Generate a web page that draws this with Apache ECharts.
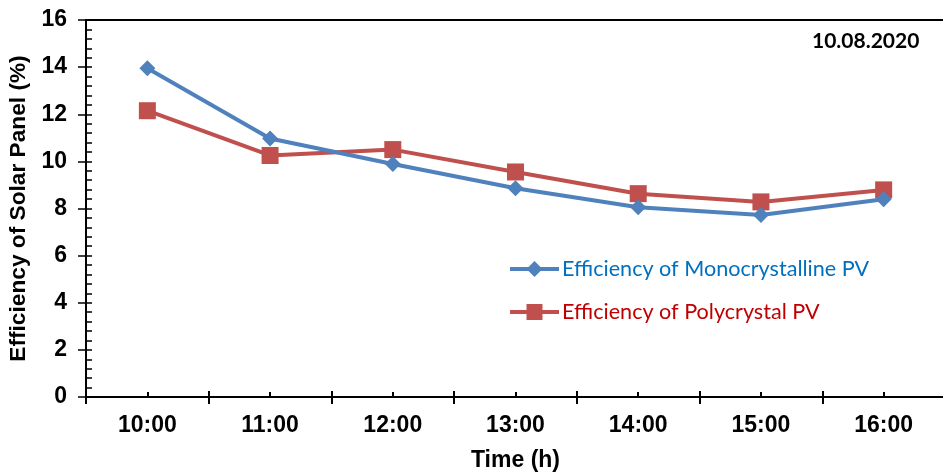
<!DOCTYPE html>
<html>
<head>
<meta charset="utf-8">
<script src="https://cdn.jsdelivr.net/npm/echarts@6/dist/echarts.min.js"></script>
<style>
  html, body { margin: 0; padding: 0; background: #fff; }
  #chart { width: 943px; height: 475px; }
</style>
</head>
<body>
<div id="chart"></div>
<script>
// Hourly efficiency readings for the two PV panel types
const times = ['10:00', '11:00', '12:00', '13:00', '14:00', '15:00', '16:00'];
const monoEff = [13.95, 10.97, 9.89, 8.86, 8.05, 7.72, 8.39];
const polyEff = [12.15, 10.25, 10.5, 9.55, 8.63, 8.28, 8.79];
const seriesNames = ['Efficiency of Monocrystalline PV', 'Efficiency of Polycrystal PV'];
const dateLabel = '10.08.2020';

const axisFont = { fontFamily: 'Liberation Sans, Arial, sans-serif', fontWeight: 'bold', fontSize: 23, color: '#000' };
const lineCol = '#000';

const chart = echarts.init(document.getElementById('chart'));

chart.setOption({
  animation: false,
  grid: {
    left: 86, top: 20, width: 859, height: 377,
    outerBoundsMode: 'none', containLabel: false,
    show: true, borderColor: lineCol, borderWidth: 2, backgroundColor: 'transparent'
  },
  title: {
    text: dateLabel,
    left: 812, top: 31, padding: 0,
    textStyle: { fontFamily: 'Lato, sans-serif', fontWeight: 'bold', fontSize: 21, color: '#000' }
  },
  legend: {
    orient: 'vertical',
    left: 508, top: 258, padding: 0,
    itemWidth: 49, itemHeight: 20, itemGap: 21,
    data: [
      { name: seriesNames[0], textStyle: { color: '#0070C0' } },
      { name: seriesNames[1], textStyle: { color: '#C00000' } }
    ],
    lineStyle: { width: 4 },
    textStyle: { fontFamily: 'Lato, sans-serif', fontSize: 21.6, padding: [0, 0, 0, -2] }
  },
  xAxis: [
    {
      type: 'category', data: times, position: 'bottom',
      name: 'Time (h)', nameLocation: 'middle', nameGap: 52,
      nameTextStyle: axisFont,
      axisLine: { lineStyle: { color: lineCol, width: 2 } },
      axisTick: { show: true, inside: false, length: 7, lineStyle: { color: lineCol, width: 2 } },
      axisLabel: Object.assign({ margin: 17 }, axisFont),
      splitLine: { show: false }
    },
    {
      type: 'category', data: times, position: 'bottom',
      axisLine: { show: false },
      axisTick: { show: true, inside: true, length: 6, lineStyle: { color: lineCol, width: 2 } },
      axisLabel: { show: false }, splitLine: { show: false }
    },
    {
      type: 'category', data: times, position: 'bottom',
      axisLine: { show: false },
      axisTick: { show: true, inside: true, alignWithLabel: true, length: 5, lineStyle: { color: lineCol, width: 2 } },
      axisLabel: { show: false }, splitLine: { show: false }
    }
  ],
  yAxis: [
    {
      type: 'value', min: 0, max: 16, interval: 2, position: 'left',
      name: 'Efficiency of Solar Panel (%)', nameLocation: 'middle', nameGap: 53,
      nameTextStyle: Object.assign({}, axisFont, { fontSize: 22.7 }),
      axisLine: { show: true, lineStyle: { color: lineCol, width: 2 } },
      axisTick: { show: true, inside: false, length: 8, lineStyle: { color: lineCol, width: 1.5 } },
      axisLabel: Object.assign({ margin: 19 }, axisFont),
      splitLine: { show: false }
    },
    {
      type: 'value', min: 0, max: 16, interval: 0.4, position: 'left',
      axisLine: { show: false },
      axisTick: { show: true, inside: true, length: 6, lineStyle: { color: lineCol, width: 1.5 } },
      axisLabel: { show: false }, splitLine: { show: false }
    }
  ],
  series: [
    {
      name: seriesNames[0], type: 'line', data: monoEff,
      xAxisIndex: 0, yAxisIndex: 0,
      symbol: 'diamond', symbolSize: [16, 16],
      itemStyle: { color: '#4F81BD' },
      lineStyle: { color: '#4F81BD', width: 4 },
      z: 3
    },
    {
      name: seriesNames[1], type: 'line', data: polyEff,
      xAxisIndex: 0, yAxisIndex: 0,
      symbol: 'rect', symbolSize: 17,
      itemStyle: { color: '#C0504D' },
      lineStyle: { color: '#C0504D', width: 4 },
      z: 2
    }
  ]
});
</script>
</body>
</html>
